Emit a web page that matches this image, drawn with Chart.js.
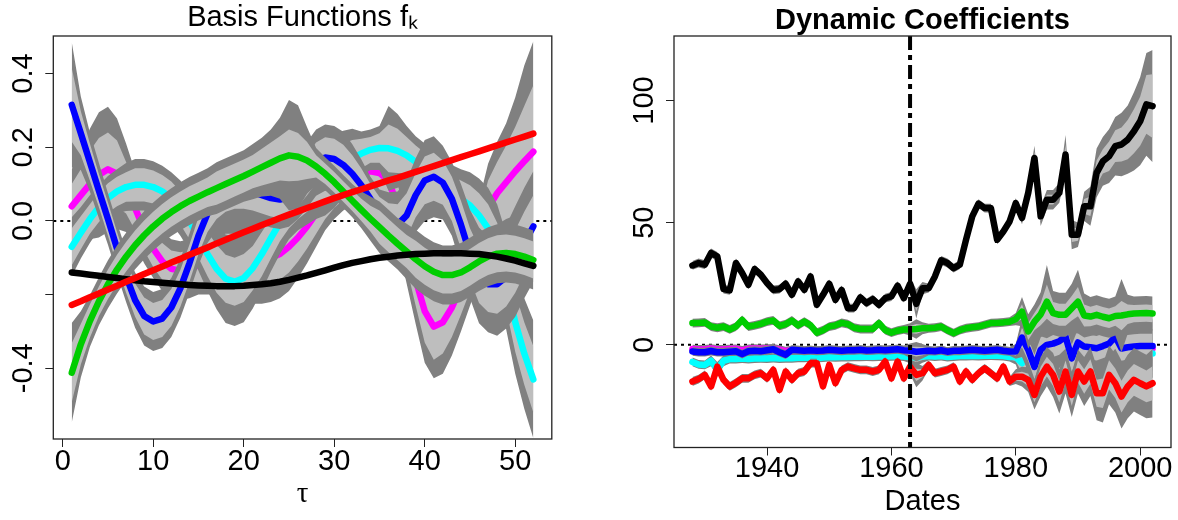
<!DOCTYPE html>
<html>
<head>
<meta charset="utf-8">
<script src="https://cdn.jsdelivr.net/npm/chart.js@4.4.1/dist/chart.umd.min.js"></script>
<style>
  html, body { margin: 0; padding: 0; background: #fff; }
  #wrap { position: relative; width: 1178px; height: 520px; }
  #basis { position: absolute; left: 0; top: 0; }
  #dynamic { position: absolute; left: 589px; top: 0; }
</style>
</head>
<body>
<div id="wrap">
  <canvas id="basis" width="589" height="520"></canvas>
  <canvas id="dynamic" width="589" height="520"></canvas>
</div>
<script>
// ---- left panel: basis functions over maturity tau ----
const tau = [1, 2, 3, 4, 5, 6, 7, 8, 9, 10, 11, 12, 13, 14, 15, 16, 17, 18, 19, 20, 21, 22, 23, 24, 25, 26,
  27, 28, 29, 30, 31, 32, 33, 34, 35, 36, 37, 38, 39, 40, 41, 42, 43, 44, 45, 46, 47, 48, 49, 50, 51, 52];
const tauTicks = [0, 10, 20, 30, 40, 50];
const basisTicks = [-0.4, -0.2, 0, 0.2, 0.4];
const basisTickLabels = ['-0.4', '', '0.0', '0.2', '0.4'];

const fMagenta = [0.04, 0.07, 0.1, 0.125, 0.14, 0.128, 0.09, 0.035, -0.025, -0.075, -0.11, -0.13, -0.135, -0.13, -0.12, -0.11, -0.1, -0.095, -0.095, -0.1,
  -0.105, -0.105, -0.1, -0.09, -0.07, -0.045, -0.015, 0.02, 0.055, 0.085, 0.108, 0.123, 0.132, 0.135, 0.13, 0.11, 0.04, -0.06, -0.16, -0.245,
  -0.287, -0.275, -0.235, -0.18, -0.12, -0.055, 0.035, 0.075, 0.105, 0.135, 0.162, 0.188];
const fMagentaOuter = [0.1, 0.12, 0.15, 0.17, 0.17, 0.15, 0.12, 0.1, 0.09, 0.08, 0.08, 0.08, 0.08, 0.08, 0.08, 0.09, 0.1, 0.1, 0.1, 0.11,
  0.12, 0.12, 0.12, 0.12, 0.12, 0.11, 0.1, 0.09, 0.08, 0.08, 0.08, 0.08, 0.08, 0.08, 0.08, 0.09, 0.1, 0.11, 0.12, 0.14,
  0.14, 0.14, 0.13, 0.12, 0.11, 0.11, 0.12, 0.14, 0.16, 0.2, 0.26, 0.3];
const fMagentaInner = [0.06, 0.07, 0.09, 0.1, 0.1, 0.09, 0.07, 0.06, 0.055, 0.05, 0.05, 0.05, 0.05, 0.05, 0.05, 0.055, 0.06, 0.06, 0.06, 0.065,
  0.07, 0.07, 0.07, 0.07, 0.07, 0.065, 0.06, 0.055, 0.05, 0.05, 0.05, 0.05, 0.05, 0.05, 0.05, 0.055, 0.06, 0.065, 0.07, 0.085,
  0.09, 0.085, 0.08, 0.075, 0.07, 0.07, 0.075, 0.085, 0.1, 0.12, 0.15, 0.18];

const fCyan = [-0.07, -0.032, 0.005, 0.037, 0.062, 0.08, 0.092, 0.098, 0.098, 0.092, 0.08, 0.062, 0.035, 0.0, -0.045, -0.09, -0.13, -0.157, -0.165, -0.155,
  -0.128, -0.09, -0.047, -0.005, 0.03, 0.055, 0.075, 0.095, 0.115, 0.135, 0.155, 0.17, 0.183, 0.193, 0.198, 0.197, 0.19, 0.178, 0.16, 0.14,
  0.118, 0.097, 0.077, 0.06, 0.042, 0.015, -0.02, -0.075, -0.165, -0.275, -0.36, -0.43];
const fCyanOuter = [0.08, 0.07, 0.065, 0.06, 0.06, 0.06, 0.065, 0.07, 0.07, 0.07, 0.07, 0.07, 0.075, 0.08, 0.09, 0.1, 0.11, 0.12, 0.12, 0.12,
  0.11, 0.1, 0.09, 0.085, 0.08, 0.08, 0.085, 0.09, 0.1, 0.1, 0.09, 0.08, 0.06, 0.055, 0.06, 0.115, 0.1, 0.08, 0.07, 0.07,
  0.07, 0.07, 0.075, 0.08, 0.09, 0.1, 0.11, 0.12, 0.13, 0.14, 0.15, 0.16];
const fCyanInner = [0.05, 0.045, 0.04, 0.04, 0.04, 0.04, 0.04, 0.045, 0.045, 0.045, 0.045, 0.045, 0.045, 0.05, 0.055, 0.06, 0.065, 0.065, 0.065, 0.065,
  0.06, 0.06, 0.055, 0.05, 0.05, 0.05, 0.05, 0.055, 0.06, 0.06, 0.055, 0.05, 0.04, 0.035, 0.04, 0.065, 0.06, 0.05, 0.045, 0.045,
  0.045, 0.045, 0.045, 0.05, 0.055, 0.06, 0.065, 0.07, 0.075, 0.08, 0.085, 0.09];

const fBlue = [0.315, 0.238, 0.16, 0.082, 0.005, -0.075, -0.15, -0.215, -0.258, -0.273, -0.265, -0.235, -0.183, -0.115, -0.04, 0.02, 0.055, 0.075, 0.083, 0.083,
  0.078, 0.07, 0.062, 0.058, 0.064, 0.09, 0.125, 0.158, 0.172, 0.168, 0.152, 0.128, 0.097, 0.06, 0.025, -0.002, -0.01, 0.015, 0.07, 0.11,
  0.12, 0.104, 0.06, -0.01, -0.09, -0.148, -0.172, -0.172, -0.152, -0.11, -0.06, -0.015];
const fBlueOuter = [0.17, 0.1, 0.08, 0.075, 0.07, 0.07, 0.07, 0.075, 0.08, 0.08, 0.08, 0.08, 0.08, 0.08, 0.08, 0.08, 0.08, 0.08, 0.08, 0.08,
  0.08, 0.08, 0.08, 0.08, 0.08, 0.085, 0.09, 0.09, 0.09, 0.09, 0.09, 0.08, 0.07, 0.06, 0.06, 0.08, 0.09, 0.095, 0.1, 0.11,
  0.11, 0.1, 0.1, 0.11, 0.12, 0.13, 0.13, 0.14, 0.14, 0.15, 0.15, 0.15];
const fBlueInner = [0.1, 0.06, 0.05, 0.045, 0.045, 0.045, 0.045, 0.045, 0.05, 0.05, 0.05, 0.05, 0.05, 0.05, 0.05, 0.05, 0.05, 0.05, 0.05, 0.05,
  0.05, 0.05, 0.05, 0.05, 0.05, 0.05, 0.055, 0.055, 0.055, 0.055, 0.055, 0.05, 0.045, 0.04, 0.04, 0.05, 0.055, 0.06, 0.06, 0.065,
  0.065, 0.06, 0.06, 0.065, 0.07, 0.075, 0.075, 0.08, 0.08, 0.085, 0.085, 0.085];

const fGreen = [-0.412, -0.335, -0.272, -0.218, -0.172, -0.132, -0.097, -0.066, -0.039, -0.015, 0.006, 0.024, 0.04, 0.054, 0.066, 0.078, 0.089, 0.1, 0.111, 0.122,
  0.134, 0.146, 0.158, 0.17, 0.178, 0.174, 0.164, 0.148, 0.128, 0.105, 0.08, 0.055, 0.03, 0.006, -0.017, -0.04, -0.062, -0.083, -0.104, -0.123,
  -0.138, -0.147, -0.147, -0.14, -0.126, -0.11, -0.097, -0.089, -0.087, -0.09, -0.097, -0.106];
const fGreenOuter = [0.135, 0.09, 0.07, 0.065, 0.065, 0.065, 0.065, 0.065, 0.065, 0.065, 0.065, 0.065, 0.065, 0.065, 0.065, 0.065, 0.07, 0.07, 0.07, 0.07,
  0.075, 0.08, 0.09, 0.11, 0.15, 0.14, 0.09, 0.05, 0.045, 0.045, 0.045, 0.045, 0.05, 0.06, 0.07, 0.07, 0.07, 0.075, 0.08, 0.08,
  0.08, 0.08, 0.08, 0.08, 0.08, 0.08, 0.08, 0.08, 0.08, 0.08, 0.08, 0.08];
const fGreenInner = [0.08, 0.055, 0.045, 0.04, 0.04, 0.04, 0.04, 0.04, 0.04, 0.04, 0.04, 0.04, 0.04, 0.04, 0.04, 0.04, 0.045, 0.045, 0.045, 0.045,
  0.045, 0.05, 0.055, 0.06, 0.07, 0.065, 0.05, 0.03, 0.028, 0.028, 0.028, 0.028, 0.03, 0.035, 0.045, 0.045, 0.045, 0.045, 0.05, 0.05,
  0.05, 0.05, 0.05, 0.05, 0.05, 0.05, 0.05, 0.05, 0.05, 0.05, 0.05, 0.05];

const fBlack = [-0.14, -0.143, -0.146, -0.149, -0.152, -0.155, -0.158, -0.161, -0.164, -0.166, -0.168, -0.17, -0.172, -0.174, -0.175, -0.176, -0.177, -0.177, -0.177, -0.176,
  -0.174, -0.172, -0.169, -0.165, -0.16, -0.154, -0.148, -0.141, -0.134, -0.127, -0.12, -0.114, -0.109, -0.104, -0.1, -0.097, -0.094, -0.092, -0.09, -0.089,
  -0.088, -0.088, -0.088, -0.088, -0.089, -0.09, -0.093, -0.097, -0.102, -0.108, -0.115, -0.122];
const fRed = [-0.228, -0.218, -0.207, -0.197, -0.186, -0.176, -0.165, -0.155, -0.144, -0.134, -0.124, -0.113, -0.103, -0.092, -0.082, -0.072, -0.061, -0.051, -0.041, -0.031,
  -0.021, -0.011, -0.002, 0.008, 0.017, 0.026, 0.035, 0.044, 0.053, 0.062, 0.07, 0.078, 0.086, 0.094, 0.102, 0.11, 0.117, 0.125, 0.133, 0.141,
  0.149, 0.157, 0.165, 0.173, 0.181, 0.189, 0.197, 0.205, 0.213, 0.221, 0.229, 0.237];

// ---- right panel: dynamic coefficients by year ----
const years = [1928, 1929, 1930, 1931, 1932, 1933, 1934, 1935, 1936, 1937, 1938, 1939, 1940, 1941, 1942, 1943, 1944, 1945, 1946, 1947,
  1948, 1949, 1950, 1951, 1952, 1953, 1954, 1955, 1956, 1957, 1958, 1959, 1960, 1961, 1962, 1963, 1964, 1965, 1966, 1967,
  1968, 1969, 1970, 1971, 1972, 1973, 1974, 1975, 1976, 1977, 1978, 1979, 1980, 1981, 1982, 1983, 1984, 1985, 1986, 1987,
  1988, 1989, 1990, 1991, 1992, 1993, 1994, 1995, 1996, 1997, 1998, 1999, 2000, 2001, 2002];
const yearTicks = [1940, 1960, 1980, 2000];
const coefTicks = [0, 50, 100];
const coefTickLabels = ['0', '50', '100'];
const splitYear = 1963;

const bBlack = [32.5, 33.5, 32.8, 37.6, 36.2, 22.8, 22.3, 33.5, 29.4, 24.6, 31.0, 28.7, 25.3, 22.5, 22.8, 25.0, 20.5, 26.0, 22.5, 28.0,
  16.4, 20.5, 25.0, 18.4, 22.5, 15.0, 15.0, 19.4, 17.1, 18.7, 16.4, 19.1, 19.8, 24.2, 19.1, 25.0, 16.8, 23.2, 23.2, 28.0,
  34.6, 33.5, 31.4, 32.8, 43.0, 52.6, 57.8, 56.0, 56.0, 43.0, 46.4, 50.5, 58.0, 51.9, 62.2, 76.5, 52.6, 59.4, 59.4, 62.2,
  77.9, 45.1, 45.1, 56.7, 56.7, 70.4, 75.1, 77.2, 81.3, 82.0, 84.0, 87.4, 91.5, 98.4, 97.7];
const bBlackOuter = [1.8, 1.8, 1.8, 1.8, 1.8, 1.8, 1.8, 1.8, 1.8, 1.8, 1.8, 1.8, 1.8, 1.8, 1.8, 1.8, 1.8, 1.8, 1.8, 1.8,
  1.8, 1.8, 1.8, 1.8, 1.8, 1.8, 1.8, 1.8, 1.8, 1.8, 1.8, 1.8, 1.8, 1.8, 1.8, 2.5, 6.0, 2.5, 1.8, 1.8,
  1.8, 1.8, 1.8, 1.8, 1.8, 1.8, 1.8, 1.8, 1.8, 1.8, 1.8, 1.8, 2.0, 2.5, 3.0, 5.0, 4.0, 4.0, 4.0, 4.0,
  8.0, 6.0, 5.0, 6.0, 8.0, 10.0, 10.0, 11.0, 12.0, 13.0, 14.0, 16.0, 18.0, 21.0, 23.0];
const bBlackInner = [1.0, 1.0, 1.0, 1.0, 1.0, 1.0, 1.0, 1.0, 1.0, 1.0, 1.0, 1.0, 1.0, 1.0, 1.0, 1.0, 1.0, 1.0, 1.0, 1.0,
  1.0, 1.0, 1.0, 1.0, 1.0, 1.0, 1.0, 1.0, 1.0, 1.0, 1.0, 1.0, 1.0, 1.0, 1.0, 1.4, 3.0, 1.4, 1.0, 1.0,
  1.0, 1.0, 1.0, 1.0, 1.0, 1.0, 1.0, 1.0, 1.0, 1.0, 1.0, 1.0, 1.1, 1.4, 1.6, 2.5, 2.0, 2.0, 2.0, 2.0,
  4.0, 3.0, 2.5, 3.0, 4.0, 5.0, 5.0, 6.0, 6.5, 7.0, 8.0, 9.0, 10.0, 12.0, 13.0];

const bGreen = [8.9, 9.0, 9.2, 7.5, 7.0, 7.5, 6.3, 7.5, 10.2, 7.5, 8.0, 8.6, 9.5, 10.0, 7.8, 8.5, 10.0, 8.0, 9.5, 8.0,
  5.0, 6.0, 7.5, 8.0, 9.0, 8.5, 7.0, 6.5, 6.5, 6.5, 8.9, 6.0, 5.0, 5.8, 6.3, 6.3, 6.5, 6.8, 6.8, 7.0,
  7.5, 6.0, 4.8, 6.0, 6.8, 7.2, 7.5, 8.2, 8.9, 9.0, 9.2, 9.5, 10.5, 13.6, 5.5, 9.5, 12.5, 17.7, 13.0, 12.3,
  12.3, 15.0, 17.7, 12.0, 11.6, 12.3, 11.5, 10.9, 11.8, 12.0, 12.5, 12.8, 12.9, 13.0, 12.8];
const bGreenOuter = [1.8, 1.8, 1.8, 1.8, 1.8, 1.8, 1.8, 1.8, 1.8, 1.8, 1.8, 1.8, 1.8, 1.8, 1.8, 1.8, 1.8, 1.8, 1.8, 1.8,
  1.8, 1.8, 1.8, 1.8, 1.8, 1.8, 1.8, 1.8, 1.8, 1.8, 1.8, 1.8, 1.8, 1.8, 1.8, 2.5, 4.0, 2.5, 1.8, 1.8,
  1.8, 1.8, 1.8, 1.8, 1.8, 1.8, 1.8, 1.8, 1.8, 1.8, 1.8, 1.8, 2.5, 6.0, 7.0, 7.0, 9.0, 15.0, 9.0, 9.0,
  9.0, 10.0, 13.0, 9.0, 8.0, 8.0, 8.0, 8.0, 8.0, 15.0, 8.0, 7.0, 7.0, 7.0, 7.0];
const bGreenInner = [1.0, 1.0, 1.0, 1.0, 1.0, 1.0, 1.0, 1.0, 1.0, 1.0, 1.0, 1.0, 1.0, 1.0, 1.0, 1.0, 1.0, 1.0, 1.0, 1.0,
  1.0, 1.0, 1.0, 1.0, 1.0, 1.0, 1.0, 1.0, 1.0, 1.0, 1.0, 1.0, 1.0, 1.0, 1.0, 1.4, 2.0, 1.4, 1.0, 1.0,
  1.0, 1.0, 1.0, 1.0, 1.0, 1.0, 1.0, 1.0, 1.0, 1.0, 1.0, 1.0, 1.4, 3.0, 3.5, 3.5, 4.5, 7.0, 4.5, 4.5,
  4.5, 5.0, 6.0, 4.5, 4.0, 4.0, 4.0, 4.0, 4.0, 6.0, 4.0, 3.5, 3.5, 3.5, 3.5];

const bBlue = [-2.7, -3.0, -3.0, -2.5, -3.0, -3.0, -2.8, -2.6, -3.8, -2.6, -2.4, -2.6, -2.2, -1.8, -3.0, -4.0, -2.0, -2.2, -2.4, -2.2,
  -2.4, -2.3, -2.0, -2.2, -2.4, -2.2, -2.2, -2.0, -2.3, -2.2, -2.0, -2.2, -2.0, -1.8, -2.2, -2.4, -2.8, -2.6, -2.4, -2.6,
  -2.2, -2.8, -2.4, -2.4, -2.2, -2.0, -2.2, -2.4, -2.2, -2.0, -2.4, -2.7, -2.7, 3.0, -2.0, -9.0, -2.0, 0.0, 0.5, 1.5,
  3.4, -5.5, 1.0, -0.7, -1.0, -1.4, -0.5, 0.5, 3.4, -1.5, -1.0, -0.7, -0.5, -0.5, -0.5];
const bBlueOuter = [1.8, 1.8, 1.8, 1.8, 1.8, 1.8, 1.8, 1.8, 1.8, 1.8, 1.8, 1.8, 1.8, 1.8, 1.8, 1.8, 1.8, 1.8, 1.8, 1.8,
  1.8, 1.8, 1.8, 1.8, 1.8, 1.8, 1.8, 1.8, 1.8, 1.8, 1.8, 1.8, 1.8, 1.8, 1.8, 3.0, 4.0, 3.0, 1.8, 1.8,
  1.8, 1.8, 1.8, 1.8, 1.8, 1.8, 1.8, 1.8, 1.8, 1.8, 1.8, 1.8, 3.0, 8.0, 9.0, 10.0, 10.0, 11.0, 11.0, 11.0,
  10.0, 11.0, 11.0, 10.0, 10.0, 10.0, 10.0, 10.0, 10.0, 10.0, 10.0, 10.0, 10.0, 10.0, 10.0];
const bBlueInner = [1.0, 1.0, 1.0, 1.0, 1.0, 1.0, 1.0, 1.0, 1.0, 1.0, 1.0, 1.0, 1.0, 1.0, 1.0, 1.0, 1.0, 1.0, 1.0, 1.0,
  1.0, 1.0, 1.0, 1.0, 1.0, 1.0, 1.0, 1.0, 1.0, 1.0, 1.0, 1.0, 1.0, 1.0, 1.0, 1.6, 2.0, 1.6, 1.0, 1.0,
  1.0, 1.0, 1.0, 1.0, 1.0, 1.0, 1.0, 1.0, 1.0, 1.0, 1.0, 1.0, 1.6, 4.0, 4.5, 5.0, 5.0, 5.5, 5.5, 5.5,
  5.0, 5.5, 5.5, 5.0, 5.0, 5.0, 5.0, 5.0, 5.0, 5.0, 5.0, 5.0, 5.0, 5.0, 5.0];

const bCyan = [-7.0, -8.0, -8.2, -6.5, -10.0, -6.5, -5.8, -5.8, -5.6, -5.8, -5.6, -5.5, -5.6, -5.4, -5.6, -5.5, -5.5, -5.3, -5.3, -5.2,
  -5.4, -5.2, -5.0, -5.1, -5.0, -5.0, -4.9, -4.9, -4.8, -4.9, -4.8, -4.8, -4.7, -4.6, -4.8, -5.0, -5.2, -4.8, -4.6, -4.8,
  -4.6, -5.0, -4.8, -4.6, -4.6, -4.5, -4.6, -4.5, -4.4, -4.5, -4.6, -5.0, -5.0, -7.5, -3.0, -4.0, -2.5, -3.0, -3.5, -5.0,
  -3.0, -4.0, -3.5, -3.0, -3.5, -3.0, -3.5, -3.0, -3.5, -4.0, -3.5, -3.5, -3.5, -3.5, -3.5];
const bCyanOuter = [1.8, 1.8, 1.8, 2.2, 3.0, 2.2, 1.8, 1.8, 1.8, 1.8, 1.8, 1.8, 1.8, 1.8, 1.8, 1.8, 1.8, 1.8, 1.8, 1.8,
  1.8, 1.8, 1.8, 1.8, 1.8, 1.8, 1.8, 1.8, 1.8, 1.8, 1.8, 1.8, 1.8, 1.8, 1.8, 2.5, 3.5, 2.5, 1.8, 1.8,
  1.8, 1.8, 1.8, 1.8, 1.8, 1.8, 1.8, 1.8, 1.8, 1.8, 1.8, 1.8, 3.0, 8.0, 9.0, 10.0, 10.0, 10.0, 10.0, 10.0,
  10.0, 10.0, 10.0, 10.0, 10.0, 10.0, 10.0, 10.0, 10.0, 10.0, 10.0, 10.0, 10.0, 10.0, 10.0];
const bCyanInner = [1.0, 1.0, 1.0, 1.2, 1.6, 1.2, 1.0, 1.0, 1.0, 1.0, 1.0, 1.0, 1.0, 1.0, 1.0, 1.0, 1.0, 1.0, 1.0, 1.0,
  1.0, 1.0, 1.0, 1.0, 1.0, 1.0, 1.0, 1.0, 1.0, 1.0, 1.0, 1.0, 1.0, 1.0, 1.0, 1.4, 1.8, 1.4, 1.0, 1.0,
  1.0, 1.0, 1.0, 1.0, 1.0, 1.0, 1.0, 1.0, 1.0, 1.0, 1.0, 1.0, 1.6, 4.0, 4.5, 5.0, 5.0, 5.0, 5.0, 5.0,
  5.0, 5.0, 5.0, 5.0, 5.0, 5.0, 5.0, 5.0, 5.0, 5.0, 5.0, 5.0, 5.0, 5.0, 5.0];

const bMagenta = [-1.7, -1.9, -1.9, -1.5, -1.9, -1.9, -1.7, -1.6, -2.3, -1.6, -1.5, -1.6, -1.5, -1.4, -2.0, -2.6, -2.1, -2.2, -2.4, -2.2,
  -2.4, -2.3, -2.0, -2.2, -2.4, -2.2, -2.2, -2.0, -2.3, -2.2, -2.0, -2.2, -2.0, -1.8, -2.2, -2.4, -2.8, -2.6, -2.4, -2.6,
  -2.2, -2.8, -2.4, -2.4, -2.2, -2.0, -2.2, -2.4, -2.2, -2.0, -2.4, -2.7, -2.7, 0.0, -3.0, -4.0, -1.0, -2.0, -1.5, -3.0,
  0.0, -3.0, -1.0, -2.0, -2.0, -1.5, -2.0, -1.5, 0.0, -2.0, -2.0, -1.5, -1.5, -1.5, -1.5];
const bMagentaOuter = [1.8, 1.8, 1.8, 1.8, 1.8, 1.8, 1.8, 1.8, 1.8, 1.8, 1.8, 1.8, 1.8, 1.8, 1.8, 1.8, 1.8, 1.8, 1.8, 1.8,
  1.8, 1.8, 1.8, 1.8, 1.8, 1.8, 1.8, 1.8, 1.8, 1.8, 1.8, 1.8, 1.8, 1.8, 1.8, 2.5, 3.5, 2.5, 1.8, 1.8,
  1.8, 1.8, 1.8, 1.8, 1.8, 1.8, 1.8, 1.8, 1.8, 1.8, 1.8, 1.8, 3.0, 9.0, 10.0, 12.0, 12.0, 12.0, 12.0, 12.0,
  12.0, 12.0, 12.0, 12.0, 12.0, 12.0, 12.0, 12.0, 12.0, 12.0, 12.0, 12.0, 12.0, 12.0, 12.0];
const bMagentaInner = [1.0, 1.0, 1.0, 1.0, 1.0, 1.0, 1.0, 1.0, 1.0, 1.0, 1.0, 1.0, 1.0, 1.0, 1.0, 1.0, 1.0, 1.0, 1.0, 1.0,
  1.0, 1.0, 1.0, 1.0, 1.0, 1.0, 1.0, 1.0, 1.0, 1.0, 1.0, 1.0, 1.0, 1.0, 1.0, 1.4, 1.8, 1.4, 1.0, 1.0,
  1.0, 1.0, 1.0, 1.0, 1.0, 1.0, 1.0, 1.0, 1.0, 1.0, 1.0, 1.0, 1.6, 4.5, 5.0, 6.0, 6.0, 6.0, 6.0, 6.0,
  6.0, 6.0, 6.0, 6.0, 6.0, 6.0, 6.0, 6.0, 6.0, 6.0, 6.0, 6.0, 6.0, 6.0, 6.0];

const bRed = [-15.0, -14.0, -12.3, -17.0, -8.9, -14.3, -17.0, -15.5, -13.7, -13.7, -12.3, -11.6, -13.7, -10.2, -18.4, -10.9, -14.3, -11.6, -10.9, -7.5,
  -7.5, -17.0, -8.2, -15.7, -10.2, -8.9, -9.6, -10.2, -10.2, -10.9, -10.2, -6.8, -13.7, -6.8, -13.7, -8.9, -12.3, -11.6, -8.2, -11.6,
  -10.9, -10.2, -8.9, -15.0, -10.9, -14.3, -11.6, -9.6, -11.6, -13.7, -8.9, -15.0, -13.0, -13.0, -14.3, -20.5, -13.0, -8.9, -12.3, -19.1,
  -10.9, -20.5, -10.9, -15.0, -10.9, -19.8, -19.8, -12.3, -15.7, -21.2, -17.0, -14.3, -15.7, -17.0, -15.7];
const bRedOuter = [1.8, 1.8, 1.8, 1.8, 1.8, 1.8, 1.8, 1.8, 1.8, 1.8, 1.8, 1.8, 1.8, 1.8, 1.8, 1.8, 1.8, 1.8, 1.8, 1.8,
  1.8, 1.8, 1.8, 1.8, 1.8, 1.8, 1.8, 1.8, 1.8, 1.8, 1.8, 1.8, 1.8, 1.8, 1.8, 3.0, 5.0, 3.0, 1.8, 1.8,
  1.8, 1.8, 1.8, 1.8, 1.8, 1.8, 1.8, 1.8, 1.8, 1.8, 1.8, 1.8, 3.0, 4.0, 5.0, 6.0, 8.0, 8.0, 9.0, 9.0,
  9.0, 9.0, 9.0, 10.0, 10.0, 11.0, 12.0, 12.0, 12.0, 13.0, 13.0, 13.0, 13.0, 13.0, 14.0];
const bRedInner = [1.0, 1.0, 1.0, 1.0, 1.0, 1.0, 1.0, 1.0, 1.0, 1.0, 1.0, 1.0, 1.0, 1.0, 1.0, 1.0, 1.0, 1.0, 1.0, 1.0,
  1.0, 1.0, 1.0, 1.0, 1.0, 1.0, 1.0, 1.0, 1.0, 1.0, 1.0, 1.0, 1.0, 1.0, 1.0, 1.6, 2.5, 1.6, 1.0, 1.0,
  1.0, 1.0, 1.0, 1.0, 1.0, 1.0, 1.0, 1.0, 1.0, 1.0, 1.0, 1.0, 1.6, 2.0, 2.5, 3.0, 4.0, 4.0, 4.5, 4.5,
  4.5, 4.5, 4.5, 5.0, 5.0, 5.5, 6.0, 6.0, 6.0, 6.5, 6.5, 6.5, 6.5, 6.5, 7.0];

// ---- styling ----
const FAMILY = "'Liberation Sans', Arial, Helvetica, sans-serif";
const SERIF = "'Liberation Serif', 'DejaVu Serif', serif";
const DARK = 'rgb(128,128,128)';
const LIGHT = 'rgb(190,190,190)';
const LINE_W = 6.5;

function toPoints(xs, ys) {
    return xs.map((x, i) => ({x: x, y: ys[i]}));
}

function offsetPoints(xs, ys, widths, sign) {
    return xs.map((x, i) => ({x: x, y: ys[i] + sign * widths[i]}));
}

// outer (dark) and inner (light) credible bands, each filled down to its lower edge
function bandLayers(xs, ys, outer, inner) {
    const edge = {borderColor: 'rgba(0,0,0,0)', borderWidth: 0, fill: false};
    return [
        Object.assign({}, edge, {data: offsetPoints(xs, ys, outer, -1)}),
        Object.assign({}, edge, {data: offsetPoints(xs, ys, outer, 1), fill: '-1', backgroundColor: DARK}),
        Object.assign({}, edge, {data: offsetPoints(xs, ys, inner, -1)}),
        Object.assign({}, edge, {data: offsetPoints(xs, ys, inner, 1), fill: '-1', backgroundColor: LIGHT})
    ];
}

function lineLayer(xs, ys, color) {
    return {
        data: toPoints(xs, ys), borderColor: color, borderWidth: LINE_W,
        borderCapStyle: 'round', borderJoinStyle: 'round', fill: false
    };
}

// first layer ends up at the back
function stack(layers) {
    return layers.map((d, i) => Object.assign({pointRadius: 0, pointHoverRadius: 0, tension: 0, order: -i}, d));
}

const framePlugin = {
    id: 'frame',
    afterDraw(chart) {
        const a = chart.chartArea, ctx = chart.ctx;
        ctx.save();
        ctx.strokeStyle = '#222';
        ctx.lineWidth = 1.3;
        ctx.strokeRect(a.left, a.top, a.right - a.left, a.bottom - a.top);
        ctx.restore();
    }
};

const zeroPlugin = {
    id: 'zeroLine',
    beforeDatasetsDraw(chart) {
        const a = chart.chartArea, ctx = chart.ctx;
        const y = chart.scales.y.getPixelForValue(0);
        ctx.save();
        ctx.setLineDash([3, 4]);
        ctx.lineWidth = 2;
        ctx.strokeStyle = '#000';
        ctx.beginPath();
        ctx.moveTo(a.left, y);
        ctx.lineTo(a.right, y);
        ctx.stroke();
        ctx.restore();
    }
};

const splitPlugin = {
    id: 'split',
    afterDatasetsDraw(chart) {
        const a = chart.chartArea, ctx = chart.ctx;
        const x = chart.scales.x.getPixelForValue(splitYear);
        ctx.save();
        ctx.setLineDash([14, 5, 5, 5]);
        ctx.lineWidth = 4;
        ctx.strokeStyle = '#000';
        ctx.beginPath();
        ctx.moveTo(x, a.top);
        ctx.lineTo(x, a.bottom);
        ctx.stroke();
        ctx.restore();
    }
};

function xAxis(min, max, tickValues, height, labelPad, title, titleFamily, titlePad) {
    return {
        type: 'linear', min: min, max: max,
        afterBuildTicks: s => { s.ticks = tickValues.map(v => ({value: v})); },
        afterFit: s => { s.height = height; },
        grid: {drawOnChartArea: false, drawTicks: true, tickLength: 8, color: '#222', lineWidth: 1},
        border: {display: false},
        ticks: {font: {family: FAMILY, size: 29}, color: '#000', padding: labelPad, maxRotation: 0, autoSkip: false,
            callback: v => String(v)},
        title: {display: true, text: title, color: '#000', font: {family: titleFamily, size: 29, lineHeight: 1.2},
            padding: {top: 0, bottom: titlePad}}
    };
}

function yAxis(min, max, tickValues, tickLabels, width, labelPad) {
    return {
        type: 'linear', min: min, max: max,
        afterBuildTicks: s => { s.ticks = tickValues.map(v => ({value: v})); },
        afterFit: s => { s.width = width; },
        grid: {drawOnChartArea: false, drawTicks: true, tickLength: 8, color: '#222', lineWidth: 1},
        border: {display: false},
        ticks: {font: {family: FAMILY, size: 29}, color: '#000', padding: labelPad,
            minRotation: 90, maxRotation: 90, crossAlign: 'center', align: 'end', autoSkip: false,
            callback: (v, i) => tickLabels[i]}
    };
}

function baseOptions(titleText, bold, titlePad, rightPad) {
    return {
        responsive: false, animation: false, devicePixelRatio: 1, events: [],
        layout: {padding: {left: 0, right: rightPad, top: 0, bottom: 0}},
        plugins: {
            legend: {display: false},
            tooltip: {enabled: false},
            title: {display: true, text: titleText, fullSize: false, color: '#000',
                font: {family: FAMILY, size: 29, weight: bold ? 'bold' : 'normal', lineHeight: 1},
                padding: titlePad}
        }
    };
}

// left: basis functions f_k
const basisLayers = [].concat(
    bandLayers(tau, fMagenta, fMagentaOuter, fMagentaInner), [lineLayer(tau, fMagenta, '#ff00ff')],
    bandLayers(tau, fCyan, fCyanOuter, fCyanInner), [lineLayer(tau, fCyan, '#00ffff')],
    bandLayers(tau, fBlue, fBlueOuter, fBlueInner), [lineLayer(tau, fBlue, '#0000ff')],
    bandLayers(tau, fGreen, fGreenOuter, fGreenInner), [lineLayer(tau, fGreen, '#00cd00')],
    [lineLayer(tau, fBlack, '#000000')],
    [lineLayer(tau, fRed, '#ff0000')]
);

const basisOptions = baseOptions('Basis Functions f\u2096', false, {top: 3, bottom: 4}, 37.2);
basisOptions.scales = {
    x: xAxis(-1.04, 54.04, tauTicks, 81, -2, '\u03c4', SERIF, 8.6),
    y: yAxis(-0.592, 0.502, basisTicks, basisTickLabels, 53.3, -18.3)
};

new Chart(document.getElementById('basis'), {
    type: 'line',
    data: {datasets: stack(basisLayers)},
    options: basisOptions,
    plugins: [zeroPlugin, framePlugin]
});

// right: dynamic coefficients
const dynamicLayers = [].concat(
    bandLayers(years, bMagenta, bMagentaOuter, bMagentaInner), [lineLayer(years, bMagenta, '#ff00ff')],
    bandLayers(years, bCyan, bCyanOuter, bCyanInner), [lineLayer(years, bCyan, '#00ffff')],
    bandLayers(years, bBlue, bBlueOuter, bBlueInner), [lineLayer(years, bBlue, '#0000ff')],
    bandLayers(years, bGreen, bGreenOuter, bGreenInner), [lineLayer(years, bGreen, '#00cd00')],
    bandLayers(years, bBlack, bBlackOuter, bBlackInner), [lineLayer(years, bBlack, '#000000')],
    bandLayers(years, bRed, bRedOuter, bRedInner), [lineLayer(years, bRed, '#ff0000')]
);

const dynamicOptions = baseOptions('Dynamic Coefficients', true, {top: 6, bottom: 1}, 7);
dynamicOptions.scales = {
    x: xAxis(1925.04, 2004.96, yearTicks, 72.5, -3.5, 'Dates', FAMILY, 0.2),
    y: yAxis(-42, 126.4, coefTicks, coefTickLabels, 85, -17.7)
};

new Chart(document.getElementById('dynamic'), {
    type: 'line',
    data: {datasets: stack(dynamicLayers)},
    options: dynamicOptions,
    plugins: [zeroPlugin, framePlugin, splitPlugin]
});
</script>
</body>
</html>
